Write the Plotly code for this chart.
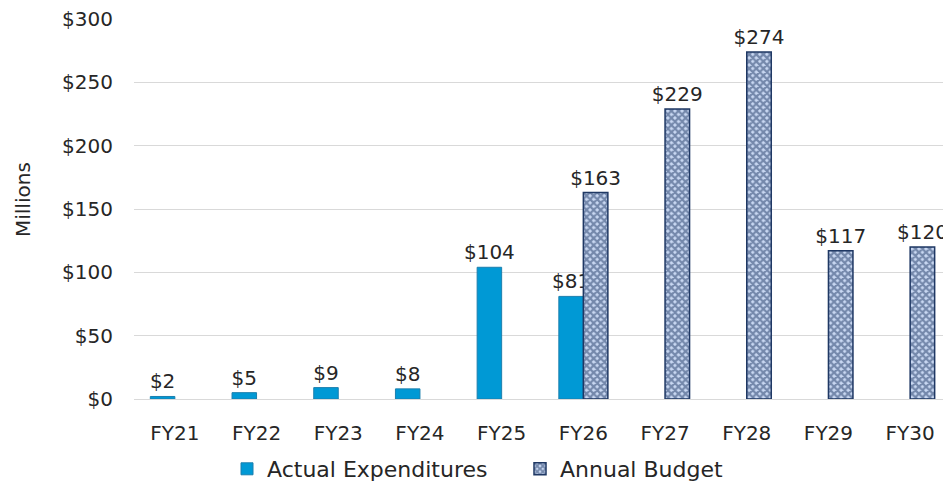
import plotly.graph_objects as go

categories = ["FY21", "FY22", "FY23", "FY24", "FY25", "FY26", "FY27", "FY28", "FY29", "FY30"]
actual = [2, 5, 9, 8, 104, 81, None, None, None, None]
budget = [None, None, None, None, None, 163, 229, 274, 117, 120]
y_ticks = [0, 50, 100, 150, 200, 250, 300]
y_tick_labels = ["$" + str(v) for v in y_ticks]

FONT = "DejaVu Sans"
TXT = "#262626"

# page body has an 8px default margin; figure sized to fit the 951x484 window
W, H = 943, 476
ML, MR, MT, MB = 126, 0, 11, 85
PW = W - ML - MR
PH = H - MT - MB

def lab(vals):
    return ["" if v is None else "$" + str(v) for v in vals]

fig = go.Figure()
fig.add_trace(go.Bar(
    x=categories, y=actual, name="Actual Expenditures",
    marker=dict(color="#0099D5", line=dict(color="#1B7FAE", width=1)),
    text=lab(actual), textposition="outside", cliponaxis=False, constraintext="none",
    textfont=dict(family=FONT, size=20, color=TXT),
))
fig.add_trace(go.Bar(
    x=categories, y=budget, name="Annual Budget",
    marker=dict(color="#C9D8F2", line=dict(color="#1F3864", width=1.5),
                pattern=dict(shape="x", bgcolor="#C9D8F2", fgcolor="#1F3864",
                             size=5, solidity=0.7, fillmode="overlay")),
    text=lab(budget), textposition="outside", cliponaxis=False, constraintext="none",
    textfont=dict(family=FONT, size=20, color=TXT),
))

fig.update_layout(
    width=W, height=H,
    margin=dict(l=ML, r=MR, t=MT, b=MB, autoexpand=False),
    barmode="group", bargap=0.4, bargroupgap=0,
    plot_bgcolor="white", paper_bgcolor="white",
    font=dict(family=FONT, size=20, color=TXT),
    legend=dict(orientation="h", xref="container", yref="container",
                x=(227 - 8) / W, xanchor="left", y=(H - 461) / H, yanchor="middle",
                font=dict(family=FONT, size=22, color=TXT), itemwidth=30,
                traceorder="normal", entrywidth=248),
    showlegend=True,
    annotations=[dict(text="Millions", textangle=-90,
                      x=(15 - ML) / PW, xref="paper", xanchor="center",
                      y=(391 - 191) / PH, yref="paper", yanchor="middle",
                      showarrow=False, font=dict(family=FONT, size=20, color=TXT))],
)
fig.update_xaxes(showline=True, linecolor="#D9D9D9", linewidth=1,
                 ticks="outside", ticklen=16, tickcolor="rgba(0,0,0,0)", automargin=False,
                 tickfont=dict(family=FONT, size=20, color=TXT))
fig.update_yaxes(range=[0, 300], tickvals=y_ticks, ticktext=y_tick_labels,
                 showgrid=True, gridcolor="#D9D9D9", gridwidth=1, zeroline=False,
                 showline=False, ticks="outside", ticklen=16, tickcolor="rgba(0,0,0,0)",
                 automargin=False, ticklabeloverflow="allow",
                 tickfont=dict(family=FONT, size=20, color=TXT))

fig.write_html("out.html")
